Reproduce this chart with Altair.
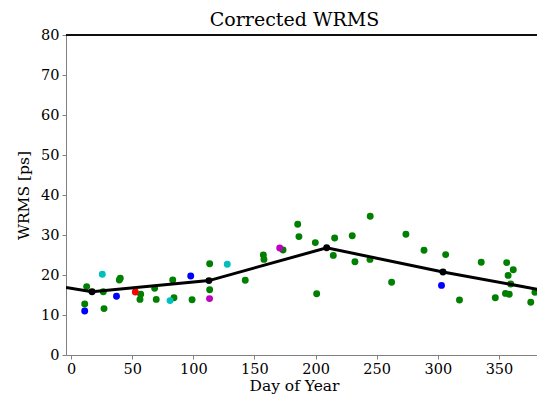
import altair as alt
import pandas as pd

# ---- data ----
green_day = [12.8, 11.2, 26.4, 27.0, 39.5, 40.3, 57.0, 56.4, 68.4, 69.7, 83.2, 84.2, 99.0,
             113.4, 113.4, 142.5, 157.3, 157.8, 173.4, 185.4, 186.4, 199.8, 215.6, 214.5,
             200.9, 230.0, 244.7, 232.2, 244.5, 262.2, 273.9, 288.7, 306.4, 317.7, 335.5,
             356.3, 361.7, 357.5, 359.6, 347.0, 355.3, 358.4, 379.4, 376.0]
green_val = [17.1, 12.75, 15.8, 11.6, 18.75, 19.2, 15.2, 13.9, 16.7, 13.9, 18.75, 14.3, 13.8,
             22.8, 16.3, 18.7, 25.0, 23.9, 26.25, 32.7, 29.6, 28.1, 29.25, 24.9,
             15.3, 29.8, 34.7, 23.3, 23.9, 18.2, 30.2, 26.2, 25.1, 13.75, 23.2,
             23.1, 21.3, 19.9, 17.75, 14.3, 15.4, 15.2, 15.7, 13.2]
blue_day = [11.2, 37.2, 97.9, 303.0]
blue_val = [11.0, 14.7, 19.75, 17.4]
cyan_day = [25.6, 81.0, 127.8]
cyan_val = [20.2, 13.6, 22.7]
red_day = [52.6]
red_val = [15.75]
magenta_day = [113.3, 170.7]
magenta_val = [14.1, 26.75]

line_day = [-4.1, 17.2, 112.8, 209.1, 304.2, 387.6]
line_val = [16.9, 15.8, 18.6, 26.8, 20.75, 16.1]
node_day = [17.2, 112.8, 209.1, 304.2]
node_val = [15.8, 18.6, 26.8, 20.75]

x_ticks = [0, 50, 100, 150, 200, 250, 300, 350]
y_ticks = [0, 10, 20, 30, 40, 50, 60, 70, 80]

color_names = ["green", "blue", "cyan", "red", "magenta"]
color_hex = ["#008000", "#0000ff", "#00bfbf", "#ff0000", "#bf00bf"]

rows = []
for i, (name, ds, vs) in enumerate([("green", green_day, green_val),
                                    ("blue", blue_day, blue_val),
                                    ("cyan", cyan_day, cyan_val),
                                    ("red", red_day, red_val),
                                    ("magenta", magenta_day, magenta_val)]):
    for d, v in zip(ds, vs):
        rows.append({"day": d, "val": v, "c": name, "o": i})
df = pd.DataFrame(rows)
line_df = pd.DataFrame({"day": line_day, "val": line_val})
node_df = pd.DataFrame({"day": node_day, "val": node_val})

FONT = "DejaVu Serif"
W, H = 471, 320
xs = alt.Scale(domain=[-4.1, 381.1], nice=False, zero=False)
ys = alt.Scale(domain=[0, 80], nice=False)
xax = alt.Axis(values=x_ticks, title="Day of Year", labelOverlap=False, titleX=228,
               titlePadding=3)
yax = alt.Axis(values=y_ticks, title="WRMS [ps]", labelOverlap=False, titlePadding=9)


def X():
    return alt.X("day:Q", scale=xs, axis=xax)


def Y():
    return alt.Y("val:Q", scale=ys, axis=yax)


points = alt.Chart(df).mark_circle(size=48, opacity=1).encode(
    x=X(), y=Y(),
    color=alt.Color("c:N", scale=alt.Scale(domain=color_names, range=color_hex), legend=None),
    order=alt.Order("o:Q"),
)
line = alt.Chart(line_df).mark_line(color="black", strokeWidth=3, clip=True).encode(
    x=X(), y=Y(), order=alt.Order("day:Q"),
)
nodes = alt.Chart(node_df).mark_circle(color="black", size=48, opacity=1).encode(
    x=X(), y=Y(),
)
top_border = alt.Chart(node_df).mark_rule(color="black", strokeWidth=1).encode(
    x=alt.value(0), x2=alt.value(W), y=alt.value(0),
)

chart = alt.layer(points, line, nodes, top_border).properties(
    width=W,
    height=H,
    title=alt.TitleParams("Corrected WRMS", font=FONT, fontSize=19, fontWeight="normal",
                          color="black", dx=-7, dy=8, offset=5),
    autosize=alt.AutoSizeParams(type="none"),
    padding={"left": 58, "top": 27, "right": 0, "bottom": 39},
).configure_view(
    stroke=None
).configure_axis(
    labelFont=FONT, labelFontSize=14.5, labelColor="black",
    titleFont=FONT, titleFontSize=15.5, titleFontWeight="normal", titleColor="black",
    domainColor="#808080", tickColor="#808080", tickSize=4, grid=False,
    labelPadding=3,
)

chart.save("out.html", embed_options={"renderer": "svg", "actions": False})
